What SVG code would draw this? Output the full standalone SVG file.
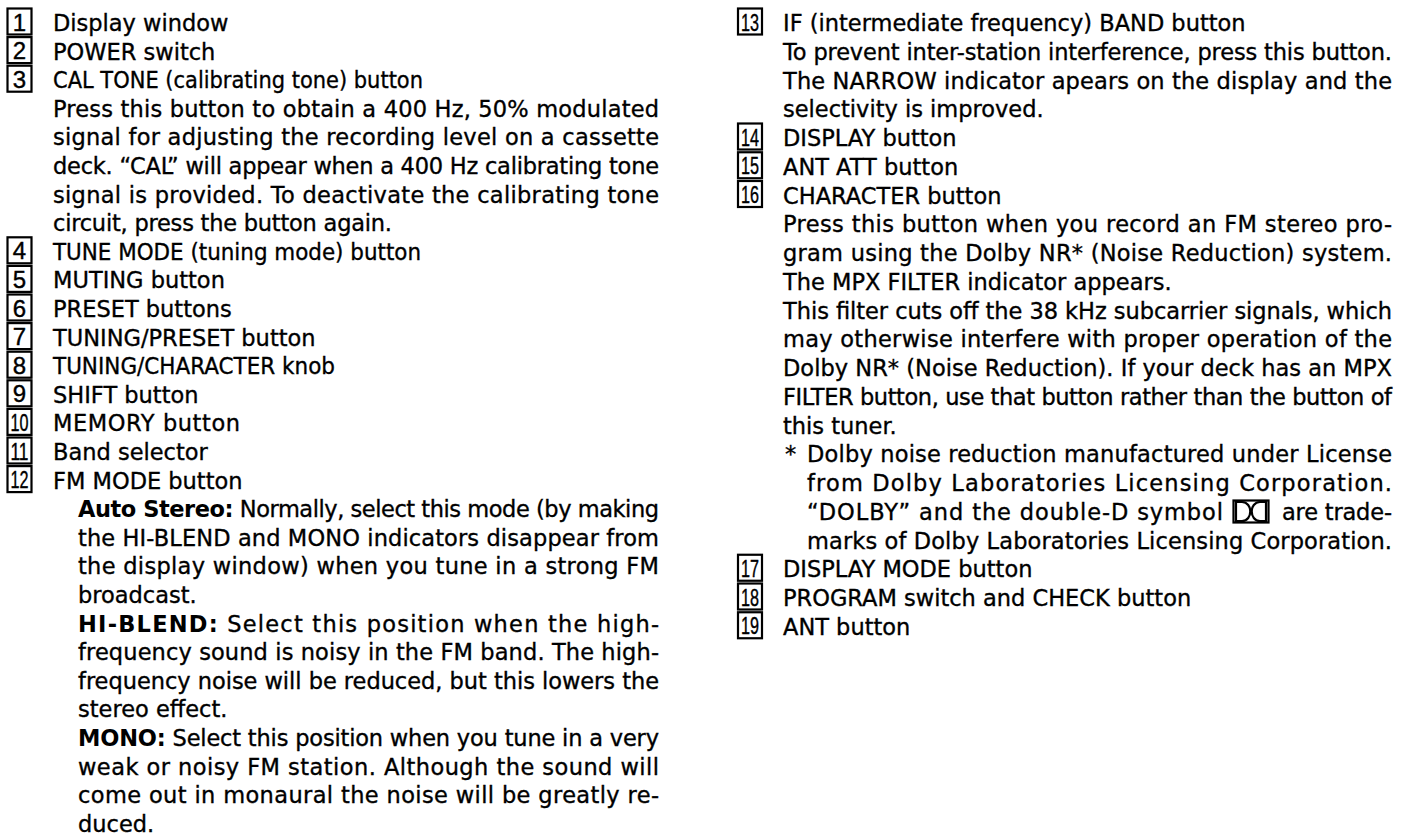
<svg xmlns="http://www.w3.org/2000/svg" width="1406" height="839" viewBox="0 0 1406 839">
<style>
.t{font-family:"DejaVu Sans","Liberation Sans",sans-serif;font-size:22.5px;fill:#000;stroke:#000;stroke-width:0.35}
.b{font-weight:bold;stroke-width:0}
.box{fill:#fff;stroke:#000;stroke-width:2.2}
.n{font-family:"Liberation Sans",Arial,sans-serif;font-size:24px;fill:#000;stroke:#000;stroke-width:0.4;text-anchor:middle}
</style>
<rect width="1406" height="839" fill="#fff"/>
<defs>
<rect id="bx" class="box" width="24" height="26"/>
</defs>

<!-- LEFT COLUMN -->
<g id="item1">
<use href="#bx" x="7.5" y="8.5"/><text class="n" x="19.5" y="30.5">1</text>
<text class="t" x="53" y="31">Display window</text>
</g>
<g id="item2">
<use href="#bx" x="7.5" y="37.1"/><text class="n" x="19.5" y="59.1">2</text>
<text class="t" x="53" y="59.6">POWER switch</text>
</g>
<g id="item3">
<use href="#bx" x="7.5" y="65.7"/><text class="n" x="19.5" y="87.7">3</text>
<text class="t" x="53" y="88.2" textLength="370" lengthAdjust="spacingAndGlyphs">CAL TONE (calibrating tone) button</text>
<text class="t" x="53" y="116.8" textLength="606" lengthAdjust="spacing">Press this button to obtain a 400 Hz, 50% modulated</text>
<text class="t" x="53" y="145.4" textLength="606" lengthAdjust="spacing">signal for adjusting the recording level on a cassette</text>
<text class="t" x="53" y="174" textLength="606" lengthAdjust="spacing">deck. “CAL” will appear when a 400 Hz calibrating tone</text>
<text class="t" x="53" y="202.6" textLength="606" lengthAdjust="spacing">signal is provided.  To deactivate the calibrating tone</text>
<text class="t" x="53" y="231.2" textLength="339" lengthAdjust="spacing">circuit, press the button again.</text>
</g>
<g id="item4">
<use href="#bx" x="7.5" y="237.3"/><text class="n" x="19.5" y="259.3">4</text>
<text class="t" x="53" y="259.8" textLength="368" lengthAdjust="spacingAndGlyphs">TUNE MODE (tuning mode) button</text>
</g>
<g id="item5">
<use href="#bx" x="7.5" y="265.9"/><text class="n" x="19.5" y="287.9">5</text>
<text class="t" x="53" y="288.4">MUTING button</text>
</g>
<g id="item6">
<use href="#bx" x="7.5" y="294.5"/><text class="n" x="19.5" y="316.5">6</text>
<text class="t" x="53" y="317">PRESET buttons</text>
</g>
<g id="item7">
<use href="#bx" x="7.5" y="323.1"/><text class="n" x="19.5" y="345.1">7</text>
<text class="t" x="53" y="345.6">TUNING/PRESET button</text>
</g>
<g id="item8">
<use href="#bx" x="7.5" y="351.7"/><text class="n" x="19.5" y="373.7">8</text>
<text class="t" x="53" y="374.2" textLength="282" lengthAdjust="spacingAndGlyphs">TUNING/CHARACTER knob</text>
</g>
<g id="item9">
<use href="#bx" x="7.5" y="380.3"/><text class="n" x="19.5" y="402.3">9</text>
<text class="t" x="53" y="402.8">SHIFT button</text>
</g>
<g id="item10">
<use href="#bx" x="7.5" y="408.9"/><text class="n" x="19.5" y="430.9" textLength="18" lengthAdjust="spacingAndGlyphs">10</text>
<text class="t" x="53" y="431.4" textLength="187" lengthAdjust="spacing">MEMORY button</text>
</g>
<g id="item11">
<use href="#bx" x="7.5" y="437.5"/><text class="n" x="19.5" y="459.5" textLength="18" lengthAdjust="spacingAndGlyphs">11</text>
<text class="t" x="53" y="460">Band selector</text>
</g>
<g id="item12">
<use href="#bx" x="7.5" y="466.1"/><text class="n" x="19.5" y="488.1" textLength="18" lengthAdjust="spacingAndGlyphs">12</text>
<text class="t" x="53" y="488.6">FM MODE button</text>
<text class="t" x="78" y="517.2" textLength="581" lengthAdjust="spacing"><tspan class="b">Auto Stereo:</tspan> Normally, select this mode (by making</text>
<text class="t" x="78" y="545.8" textLength="581" lengthAdjust="spacing">the HI-BLEND and MONO indicators disappear from</text>
<text class="t" x="78" y="574.4" textLength="581" lengthAdjust="spacing">the display window) when you tune in a strong FM</text>
<text class="t" x="78" y="603">broadcast.</text>
<text class="t" x="78" y="631.6" textLength="581" lengthAdjust="spacing"><tspan class="b">HI-BLEND:</tspan> Select this position when the high-</text>
<text class="t" x="78" y="660.2" textLength="581" lengthAdjust="spacing">frequency sound is noisy in the FM band. The high-</text>
<text class="t" x="78" y="688.8" textLength="581" lengthAdjust="spacing">frequency noise will be reduced, but this lowers the</text>
<text class="t" x="78" y="717.4">stereo effect.</text>
<text class="t" x="78" y="746" textLength="581" lengthAdjust="spacing"><tspan class="b">MONO:</tspan> Select this position when you tune in a very</text>
<text class="t" x="78" y="774.6" textLength="581" lengthAdjust="spacing">weak or noisy FM station.  Although the sound will</text>
<text class="t" x="78" y="803.2" textLength="581" lengthAdjust="spacing">come out in monaural the noise will be greatly re-</text>
<text class="t" x="78" y="831.8">duced.</text>
</g>

<!-- RIGHT COLUMN -->
<g id="item13">
<use href="#bx" x="738" y="8.5"/><text class="n" x="750" y="30.5" textLength="18" lengthAdjust="spacingAndGlyphs">13</text>
<text class="t" x="783" y="31">IF (intermediate frequency) BAND button</text>
<text class="t" x="783" y="59.75" textLength="609" lengthAdjust="spacing">To prevent inter-station interference, press this button.</text>
<text class="t" x="783" y="88.5" textLength="609" lengthAdjust="spacing">The NARROW indicator apears on the display and the</text>
<text class="t" x="783" y="117.25">selectivity is improved.</text>
</g>
<g id="item14">
<use href="#bx" x="738" y="123.5"/><text class="n" x="750" y="145.5" textLength="18" lengthAdjust="spacingAndGlyphs">14</text>
<text class="t" x="783" y="146">DISPLAY button</text>
</g>
<g id="item15">
<use href="#bx" x="738" y="152.25"/><text class="n" x="750" y="174.25" textLength="18" lengthAdjust="spacingAndGlyphs">15</text>
<text class="t" x="783" y="174.75">ANT ATT button</text>
</g>
<g id="item16">
<use href="#bx" x="738" y="181"/><text class="n" x="750" y="203" textLength="18" lengthAdjust="spacingAndGlyphs">16</text>
<text class="t" x="783" y="203.5">CHARACTER button</text>
<text class="t" x="783" y="232.25" textLength="609" lengthAdjust="spacing">Press this button when you record an FM stereo pro-</text>
<text class="t" x="783" y="261" textLength="609" lengthAdjust="spacing">gram using the Dolby NR* (Noise Reduction) system.</text>
<text class="t" x="783" y="289.75">The MPX FILTER indicator appears.</text>
<text class="t" x="783" y="318.5" textLength="609" lengthAdjust="spacing">This filter cuts off the 38 kHz subcarrier signals, which</text>
<text class="t" x="783" y="347.25" textLength="609" lengthAdjust="spacing">may otherwise interfere with proper operation of the</text>
<text class="t" x="783" y="376" textLength="609" lengthAdjust="spacing">Dolby NR* (Noise Reduction).  If your deck has an MPX</text>
<text class="t" x="783" y="404.75" textLength="609" lengthAdjust="spacing">FILTER button, use that button rather than the button of</text>
<text class="t" x="783" y="433.5">this tuner.</text>
<text class="t" x="785" y="462.25">*</text>
<text class="t" x="807" y="462.25" textLength="585" lengthAdjust="spacing">Dolby noise reduction manufactured under License</text>
<text class="t" x="807" y="491" textLength="585" lengthAdjust="spacing">from Dolby Laboratories Licensing Corporation.</text>
<text class="t" x="807" y="519.75" textLength="416" lengthAdjust="spacing">“DOLBY” and the double-D symbol</text>
<g id="dolby-symbol" fill="none" stroke="#000" stroke-width="2.2">
<rect x="1233.5" y="500.5" width="35" height="22"/>
<path d="M1236,502 H1242 C1253,502 1253,521 1242,521 H1236 Z"/>
<path d="M1266,502 H1260 C1249,502 1249,521 1260,521 H1266 Z"/>
</g>
<text class="t" x="1282" y="519.75" textLength="110" lengthAdjust="spacing">are trade-</text>
<text class="t" x="807" y="548.5" textLength="585" lengthAdjust="spacing">marks of Dolby Laboratories Licensing Corporation.</text>
</g>
<g id="item17">
<use href="#bx" x="738" y="554.75"/><text class="n" x="750" y="576.75" textLength="18" lengthAdjust="spacingAndGlyphs">17</text>
<text class="t" x="783" y="577.25">DISPLAY MODE button</text>
</g>
<g id="item18">
<use href="#bx" x="738" y="583.5"/><text class="n" x="750" y="605.5" textLength="18" lengthAdjust="spacingAndGlyphs">18</text>
<text class="t" x="783" y="606">PROGRAM switch and CHECK button</text>
</g>
<g id="item19">
<use href="#bx" x="738" y="612.25"/><text class="n" x="750" y="634.25" textLength="18" lengthAdjust="spacingAndGlyphs">19</text>
<text class="t" x="783" y="634.75">ANT button</text>
</g>
</svg>
